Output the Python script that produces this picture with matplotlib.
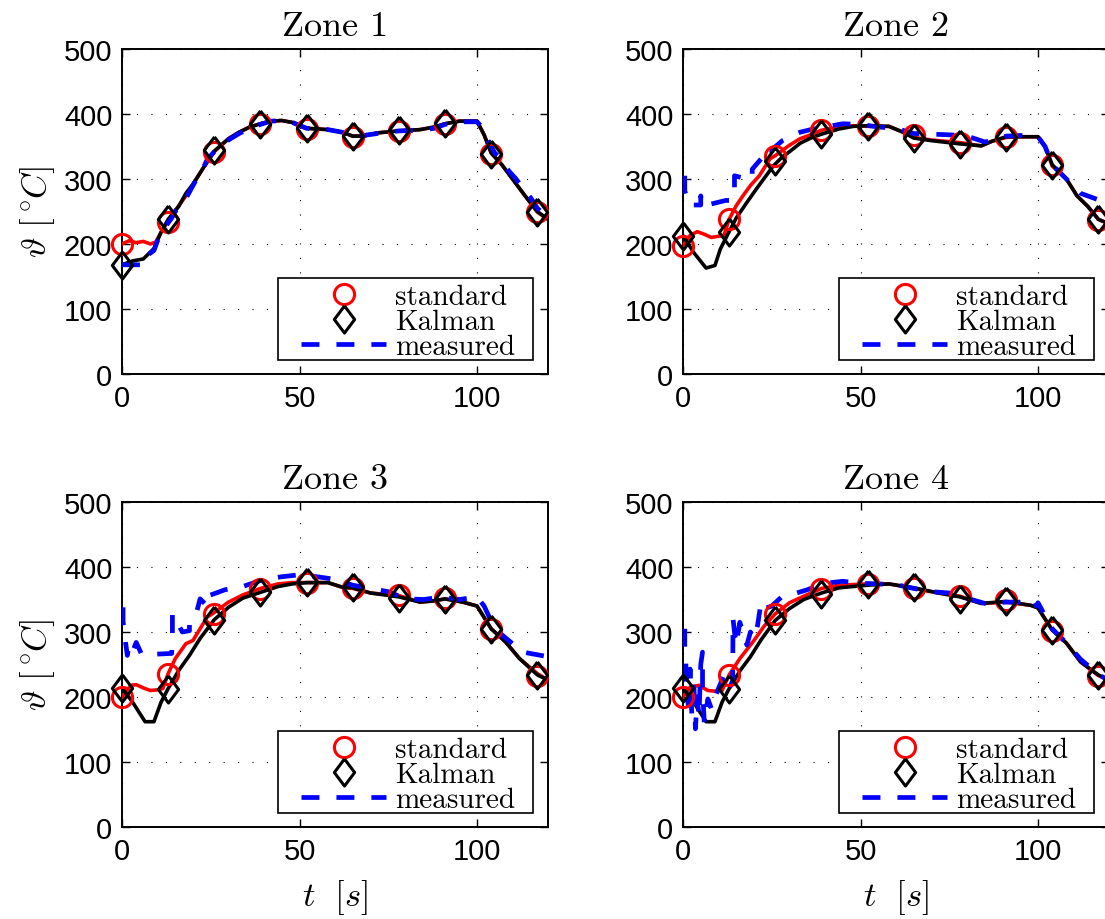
import matplotlib
matplotlib.use("Agg")
import matplotlib.pyplot as plt
from matplotlib.lines import Line2D
from matplotlib.patches import Rectangle

plt.rcParams['mathtext.fontset'] = 'cm'

# ---------------- data ----------------
zones = ["Zone 1", "Zone 2", "Zone 3", "Zone 4"]
t_mark = [0, 13, 26, 39, 52, 65, 78, 91, 104, 117]

# Zone 1
z1_std_t = [0, 2, 4, 6, 8, 9.5, 11, 13, 16, 18, 20, 23, 26, 30, 33, 36, 39, 42, 45, 48, 52, 58, 62, 65, 68, 72, 78, 84, 88, 91, 95, 100, 102, 104, 107, 110, 113, 117, 120]
z1_std_v = [200, 205, 202, 204, 200, 203, 218, 236, 259, 274, 292, 318, 342, 362, 372, 380, 385, 389, 390, 387, 378, 376, 372, 366, 366, 371, 374, 376, 380, 385, 389, 389, 368, 340, 322, 300, 278, 249, 238]
z1_kal_t = [0, 3, 6, 9, 11, 13, 16, 18, 20, 23, 26, 30, 33, 36, 39, 42, 45, 48, 52, 58, 62, 65, 68, 72, 78, 84, 88, 91, 95, 100, 102, 104, 107, 110, 113, 117, 120]
z1_kal_v = [168, 174, 177, 193, 218, 238, 258, 278, 292, 318, 343, 362, 372, 380, 385, 389, 390, 387, 378, 376, 372, 366, 366, 371, 374, 376, 380, 385, 389, 389, 368, 340, 322, 300, 278, 250, 238]
z1_mea_t = [0, 6.5, 7, 9, 10, 12, 14, 15, 17, 18, 20, 21, 23, 24, 26, 30, 33, 36, 39, 42, 45, 48, 52, 58, 62, 65, 68, 72, 78, 84, 88, 91, 95, 100, 101, 103, 105, 107, 109, 111, 113, 115, 117, 120]
z1_mea_v = [168, 168, 182, 190, 205, 225, 240, 250, 262, 270, 290, 300, 318, 330, 342, 360, 370, 378, 384, 389, 390, 387, 378, 376, 372, 366, 367, 370, 374, 375, 378, 384, 388, 388, 382, 360, 340, 330, 312, 300, 285, 272, 255, 240]
z1_std_m = [200, 234, 342, 385, 377, 364, 374, 385, 338, 249]
z1_kal_m = [168, 238, 344, 385, 378, 366, 375, 386, 339, 250]

# Zone 2
z2_std_t = [0, 2, 4, 6, 8, 10, 11.5, 13, 15, 17, 19, 21.5, 24.5, 26, 30, 33, 36, 39, 44, 48, 52, 58, 62, 65, 70, 78, 84, 87, 91, 95, 100, 102, 104, 108, 111, 114, 117, 120]
z2_std_v = [198, 213, 219, 215, 210, 212, 213, 238, 259, 275, 290, 305, 331, 336, 352, 362, 368, 375, 380, 382, 381, 381, 372, 364, 360, 356, 351, 358, 364, 365, 365, 350, 320, 300, 274, 258, 238, 231]
z2_kal_t = [0, 3, 6.5, 9, 10.5, 13, 15, 18, 20.7, 23, 25.4, 28, 30, 33, 36, 39, 44, 48, 52, 58, 62, 65, 70, 78, 84, 87, 91, 95, 100, 102, 104, 108, 111, 114, 117, 120]
z2_kal_v = [213, 187, 163, 167, 192, 219, 240, 264, 285, 302, 320, 334, 342, 355, 363, 369, 377, 381, 382, 381, 372, 363, 359, 354, 351, 358, 365, 365, 365, 350, 322, 300, 274, 258, 238, 231]
z2_mea_t = [0.5, 0.5, 1.6, 5, 5, 5.3, 6.8, 12, 14, 14.5, 14.5, 18, 19.5, 19.5, 22, 25, 25, 28, 33, 36, 40, 45, 50, 55, 60, 65, 70, 75, 80, 85, 88, 91, 95, 100, 102, 104, 108, 112, 116, 120]
z2_mea_v = [305, 282, 260, 260, 274, 260, 260, 267, 267, 285, 305, 300, 300, 315, 331, 331, 345, 359, 372, 376, 380, 385, 384, 380, 378, 370, 369, 368, 366, 357, 360, 366, 367, 365, 350, 322, 300, 278, 270, 262]
z2_std_m = [197, 238, 336, 376, 381, 367, 356, 364, 321, 237]
z2_kal_m = [213, 219, 328, 369, 382, 363, 354, 365, 322, 238]

# Zone 3
z3_std_t = [0, 2.5, 4, 6, 8, 10, 11.5, 13, 15, 18, 20, 22, 24, 26, 30, 34, 39, 44, 48, 52, 58, 62, 65, 70, 78, 84, 88, 91, 96, 100, 104, 108, 112, 117, 120]
z3_std_v = [200, 218, 219, 214, 210, 211, 213, 236, 259, 282, 287, 305, 323, 330, 346, 357, 367, 374, 376, 376, 376, 369, 367, 360, 356, 346, 348, 351, 346, 340, 305, 285, 259, 236, 226]
z3_kal_t = [0, 3, 6.5, 9, 11, 13, 16, 19, 22, 26, 30, 34, 39, 44, 48, 52, 58, 62, 65, 70, 78, 84, 88, 91, 96, 100, 104, 108, 112, 117, 120]
z3_kal_v = [214, 192, 162, 162, 192, 213, 241, 264, 290, 319, 338, 352, 361, 370, 374, 376, 376, 369, 368, 360, 354, 346, 348, 351, 346, 340, 305, 285, 259, 234, 226]
z3_mea_t = [0.3, 0.3, 0.8, 1, 1.5, 2, 3, 4, 5.5, 6, 10, 14, 14.2, 14.2, 17, 19, 19, 21, 22, 24, 24, 29, 34, 40, 45, 50, 55, 60, 65, 70, 75, 80, 85, 90, 95, 100, 102, 105, 110, 113, 117, 120]
z3_mea_v = [338, 315, 300, 284, 264, 280, 270, 284, 266, 265, 266, 267, 300, 328, 300, 302, 312, 330, 351, 340, 355, 365, 370, 381, 385, 388, 385, 381, 372, 367, 362, 351, 350, 354, 350, 354, 340, 305, 282, 269, 265, 262]
z3_std_m = [200, 236, 328, 366, 375, 368, 357, 352, 304, 233]
z3_kal_m = [214, 213, 319, 361, 377, 369, 352, 351, 305, 234]

# Zone 4
z4_std_t = [0, 2, 4.5, 7, 9, 11, 13, 16, 20, 23, 26, 30, 34, 39, 44, 52, 58, 65, 72, 78, 84, 91, 98, 100, 104, 108, 112, 117, 120]
z4_std_v = [200, 215, 218, 210, 209, 210, 234, 259, 287, 310, 328, 345, 355, 367, 372, 374, 374, 367, 360, 355, 344, 346, 341, 337, 303, 283, 254, 233, 226]
z4_kal_t = [0, 3, 6.5, 9, 11, 13, 16, 19, 22, 26, 30, 34, 39, 44, 52, 58, 65, 72, 78, 84, 91, 98, 100, 104, 108, 112, 117, 120]
z4_kal_v = [214, 192, 162, 162, 192, 213, 240, 262, 288, 318, 336, 350, 360, 368, 372, 374, 368, 360, 354, 344, 347, 341, 337, 303, 283, 254, 234, 226]
z4_mea_t = [0.5, 0.5, 0.8, 1, 1.5, 2, 2.5, 3, 3.5, 4, 4.5, 5, 5.5, 5.5, 6, 7, 8, 9, 9, 11.5, 13, 14, 14.1, 14.5, 15, 16, 18, 19, 20, 21, 22, 23, 25, 28, 32, 35, 40, 45, 50, 55, 60, 65, 70, 75, 80, 85, 91, 95, 99, 99.5, 100, 104, 108, 112, 117, 120]
z4_mea_v = [305, 270, 254, 210, 187, 243, 170, 230, 151, 200, 170, 250, 269, 213, 160, 197, 182, 190, 200, 233, 213, 225, 320, 300, 280, 315, 280, 300, 290, 310, 346, 336, 340, 355, 360, 365, 375, 378, 375, 374, 373, 367, 362, 360, 352, 344, 346, 346, 349, 340, 345, 305, 283, 258, 235, 225]
z4_std_m = [200, 234, 327, 366, 374, 367, 355, 349, 301, 233]
z4_kal_m = [214, 213, 318, 359, 374, 369, 351, 347, 303, 234]

series = [
    (z1_std_t, z1_std_v, z1_kal_t, z1_kal_v, z1_mea_t, z1_mea_v, z1_std_m, z1_kal_m),
    (z2_std_t, z2_std_v, z2_kal_t, z2_kal_v, z2_mea_t, z2_mea_v, z2_std_m, z2_kal_m),
    (z3_std_t, z3_std_v, z3_kal_t, z3_kal_v, z3_mea_t, z3_mea_v, z3_std_m, z3_kal_m),
    (z4_std_t, z4_std_v, z4_kal_t, z4_kal_v, z4_mea_t, z4_mea_v, z4_std_m, z4_kal_m),
]
legend_labels = ["standard", "Kalman", "measured"]

# ---------------- figure ----------------
W, H = 1105, 920
fig = plt.figure(figsize=(W / 100, H / 100), dpi=100)

ax_w, ax_h = 426, 325
lefts = [122, 683]
tops = [50, 503]

diamond = [(0, 1), (0.75, 0), (0, -1), (-0.75, 0), (0, 1)]
tick_font = 'Liberation Sans'
cm_font = 'cmr10'
LW = 2.6
BLW = 3.4
DASH = (3.8, 3.6)

for i, (name, s) in enumerate(zip(zones, series)):
    r, c = divmod(i, 2)
    ax = fig.add_axes([lefts[c] / W, 1 - (tops[r] + ax_h) / H, ax_w / W, ax_h / H])
    st, sv, kt, kv, mt, mv, sm, km = s
    ax.plot(st, sv, color='red', lw=LW, zorder=3)
    ax.plot(kt, kv, color='black', lw=LW, zorder=4)
    ax.plot(mt, mv, color='blue', lw=BLW, dashes=DASH, zorder=5)
    h1, = ax.plot(t_mark, sm, ls='none', marker='o', ms=14.5, mfc='none', mec='red',
                  mew=2.2, zorder=6, clip_on=False)
    h2, = ax.plot(t_mark, km, ls='none', marker=diamond, ms=19.5, mfc='none', mec='black',
                  mew=2.2, zorder=7, clip_on=False)
    h3 = Line2D([], [], color='blue', lw=BLW, dashes=DASH)

    ax.set_xlim(0, 120)
    ax.set_ylim(0, 500)
    ax.set_xticks([0, 50, 100])
    ax.set_yticks([0, 100, 200, 300, 400, 500])
    ax.grid(True, color='black', lw=0.8, ls=(0, (1, 12)))
    ax.set_axisbelow(True)
    ax.tick_params(direction='in', top=True, right=True, length=6, width=1.0,
                   labelsize=21, pad=7)
    for lab in ax.get_xticklabels() + ax.get_yticklabels():
        lab.set_fontfamily(tick_font)
    for sp in ax.spines.values():
        sp.set_linewidth(1.4)
    ax.set_title(name, fontsize=26, fontfamily=cm_font, pad=10)
    if c == 0:
        ax.set_ylabel(r'$\vartheta\ [{}^\circ\!C]$', fontsize=25, labelpad=5)
    if r == 1:
        ax.set_xlabel(r'$t\ \ [s]$', fontsize=25, labelpad=9)

    # legend frame (MATLAB-style box)
    box = Rectangle((0.366, 0.043), 0.599, 0.252, transform=ax.transAxes,
                    facecolor='white', edgecolor='black', lw=1.2, zorder=9,
                    clip_on=False)
    ax.add_patch(box)
    leg = ax.legend([h1, h2, h3], legend_labels, loc='lower right', numpoints=1,
                    bbox_to_anchor=(0.9225, 0.043), frameon=False,
                    prop={'family': cm_font, 'size': 21}, handlelength=2.9,
                    labelspacing=-0.05, borderpad=0.0, handletextpad=0.31,
                    borderaxespad=0.0)
    leg.set_zorder(10)

fig.savefig('out.png', dpi=100)
